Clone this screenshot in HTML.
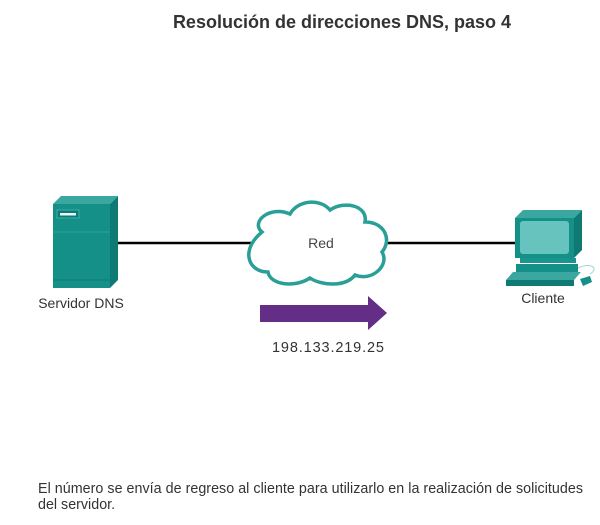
<!DOCTYPE html>
<html><head><meta charset="utf-8"><style>
body{margin:0;width:600px;height:520px;background:#fff;font-family:"Liberation Sans",sans-serif;overflow:hidden}
</style></head><body>
<svg width="600" height="520" viewBox="0 0 600 520" xmlns="http://www.w3.org/2000/svg" font-family="Liberation Sans, sans-serif">
<text x="342" y="28" font-size="18" font-weight="bold" fill="#333" text-anchor="middle">Resolución de direcciones DNS, paso 4</text>
<line x1="115" y1="243" x2="252" y2="243" stroke="#000" stroke-width="2.5"/>
<line x1="382" y1="243" x2="518" y2="243" stroke="#000" stroke-width="2.5"/>
<polygon points="53,204 61,196 118,196 110,204" fill="#3aa8a0"/>
<polygon points="110,204 118,196 118,280 110,288" fill="#0f7a74"/>
<rect x="53" y="204" width="57" height="84" fill="#149089"/>
<line x1="53" y1="232" x2="110" y2="232" stroke="#2aa39b" stroke-width="1"/>
<line x1="53" y1="280" x2="110" y2="280" stroke="#0f7a74" stroke-width="1"/>
<rect x="57" y="210" width="22" height="8" fill="#0e7c76" stroke="#3bb0a8"/>
<rect x="60" y="213" width="16" height="2.5" fill="#e8f8f6"/>
<text x="81" y="308" font-size="14" fill="#333" text-anchor="middle">Servidor DNS</text>
<path d="M262,232 C250,222 270,205 290,214 C298,200 320,198 330,210 C345,200 368,206 365,222 C385,222 392,240 382,252 C390,265 372,282 355,275 C345,288 320,285 310,278 C295,288 270,285 268,272 C248,272 240,250 262,232 Z" fill="#fff" stroke="#2a9f98" stroke-width="3.5"/>
<text x="321" y="248" font-size="14" fill="#444" text-anchor="middle">Red</text>
<polygon points="260,305 368,305 368,296 387,313 368,330 368,322 260,322" fill="#642d86"/>
<text x="328" y="352" font-size="14.5" fill="#333" text-anchor="middle" textLength="112">198.133.219.25</text>
<polygon points="515,218 523,210 582,210 574,218" fill="#3aa8a0"/>
<polygon points="574,218 582,210 582,250 574,258" fill="#0f7a74"/>
<rect x="515" y="218" width="59" height="40" fill="#149089"/>
<rect x="520" y="221" width="49" height="33" rx="3" fill="#67c3bd"/>
<rect x="520" y="258" width="56" height="5" fill="#17958e"/>
<rect x="516" y="264" width="62" height="8" fill="#149089"/>
<polygon points="506,280 513,272 581,272 574,280" fill="#3aa8a0"/>
<rect x="506" y="280" width="68" height="6" fill="#0f7a74"/>
<polygon points="580,279 590,276 592,282 583,286" fill="#149089"/>
<path d="M578,268 C590,262 600,268 590,274" fill="none" stroke="#9fd6d2" stroke-width="1"/>
<text x="543" y="303" font-size="14" fill="#333" text-anchor="middle">Cliente</text>
<text x="38" y="493" font-size="14.3" fill="#333" textLength="545">El número se envía de regreso al cliente para utilizarlo en la realización de solicitudes</text>
<text x="38" y="509" font-size="14.3" fill="#333">del servidor.</text>
</svg>
</body></html>
